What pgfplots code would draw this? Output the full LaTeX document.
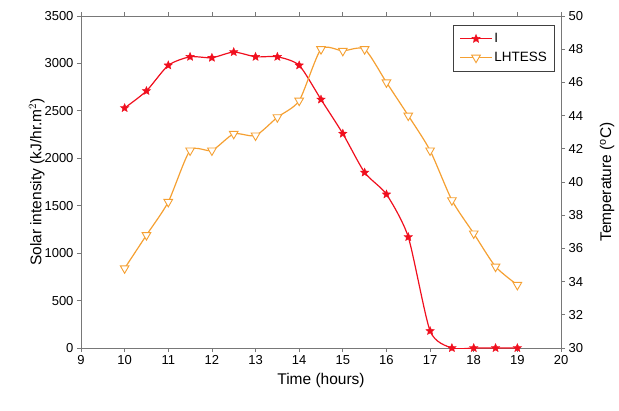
\documentclass[border=0pt]{standalone}
\usepackage{fontspec}
\setmainfont{Liberation Sans}
\usepackage{pgfplots}
\pgfplotsset{compat=1.18}
\definecolor{IRed}{RGB}{240,15,30}
\definecolor{LOrange}{RGB}{245,160,50}
\definecolor{AxGray}{RGB}{120,120,120}

% filled five-point star
\pgfdeclareplotmark{fstar}{%
  \pgfpathmoveto{\pgfqpointpolar{90}{\pgfplotmarksize}}%
  \pgfpathlineto{\pgfqpointpolar{126}{0.45\pgfplotmarksize}}%
  \pgfpathlineto{\pgfqpointpolar{162}{\pgfplotmarksize}}%
  \pgfpathlineto{\pgfqpointpolar{198}{0.45\pgfplotmarksize}}%
  \pgfpathlineto{\pgfqpointpolar{234}{\pgfplotmarksize}}%
  \pgfpathlineto{\pgfqpointpolar{270}{0.45\pgfplotmarksize}}%
  \pgfpathlineto{\pgfqpointpolar{306}{\pgfplotmarksize}}%
  \pgfpathlineto{\pgfqpointpolar{342}{0.45\pgfplotmarksize}}%
  \pgfpathlineto{\pgfqpointpolar{18}{\pgfplotmarksize}}%
  \pgfpathlineto{\pgfqpointpolar{54}{0.45\pgfplotmarksize}}%
  \pgfpathclose
  \pgfusepathqfillstroke}

\pgfplotstableread{
t I
10 2530
10.5 2710
11 2980
11.5 3070
12 3060
12.5 3120
13 3070
13.5 3070
14 2980
14.5 2620
15 2260
15.5 1850
16 1620
16.5 1170
17 180
17.5 0
18 0
18.5 0
19 0
}\solar

\pgfplotstableread{
t T
10 34.8
10.5 36.8
11 38.8
11.5 41.9
12 41.9
12.5 42.9
13 42.8
13.5 43.9
14 44.9
14.5 48.0
15 47.9
15.5 48.0
16 46.0
16.5 44.0
17 41.9
17.5 38.9
18 36.9
18.5 34.9
19 33.8
}\temp

\pgfplotsset{
  common/.style={
    width=480pt, height=332pt, scale only axis,
    xmin=9, xmax=20,
    axis line style={AxGray, line width=0.9pt},
    tick style={AxGray, line width=0.8pt},
    tick align=outside,
    major tick length=4pt,
    every tick label/.append style={font=\fontsize{13}{15}\selectfont},
    label style={font=\fontsize{15.5}{18}\selectfont},
    /pgf/number format/assume math mode=true,
  },
  Istyle/.style={IRed, line width=1.2pt, mark=fstar, mark size=4.4pt,
    mark options={fill=IRed, line width=0.4pt}},
  Tstyle/.style={LOrange, line width=1.2pt, mark=triangle*, mark size=5pt,
    mark options={rotate=180, fill=white, draw=LOrange, line width=0.9pt}},
}

\begin{document}
\begin{tikzpicture}
\begin{axis}[common, name=main,
  ymin=0, ymax=3500, ytick={0,500,...,3500},
  xtick={9,...,20},
  axis y line*=left, axis x line*=box,
  xlabel={Time (hours)},
  ylabel={Solar intensity (kJ/hr.m$^2$)},
  /pgf/number format/1000 sep={},
  ylabel style={yshift=-7pt},
  xlabel style={yshift=-2pt},
]
\addplot[Istyle, smooth, tension=0.4] table[x=t,y=I] {\solar};
\end{axis}
\begin{axis}[common,
  ymin=30, ymax=50, ytick={30,32,...,50},
  axis y line*=right, axis x line=none,
  ylabel={Temperature ($^\mathrm{o}$C)},
  ylabel style={yshift=-10pt},
  legend style={at={(0.988,0.973)}, anchor=north east, draw=black!75,
    line width=0.9pt,
    font=\fontsize{13.5}{16}\selectfont, inner xsep=6pt, inner ysep=6pt, row sep=4pt},
  legend cell align=left,
  legend image code/.code={%
    \draw[#1, mark=none, line width=1.2pt] (0cm,0cm) -- (1.1cm,0cm);
    \path[#1] plot coordinates {(0.55cm,0cm)};},
]
\addlegendimage{Istyle}
\addlegendentry{I}
\addplot[Tstyle, smooth, tension=0.4] table[x=t,y=T] {\temp};
\addlegendentry{LHTESS}
\end{axis}
\pgfresetboundingbox
\path[use as bounding box] (main.south west) ++(-81pt,-62pt) rectangle ([shift={(58pt,16pt)}]main.north east);
\end{tikzpicture}
\end{document}
